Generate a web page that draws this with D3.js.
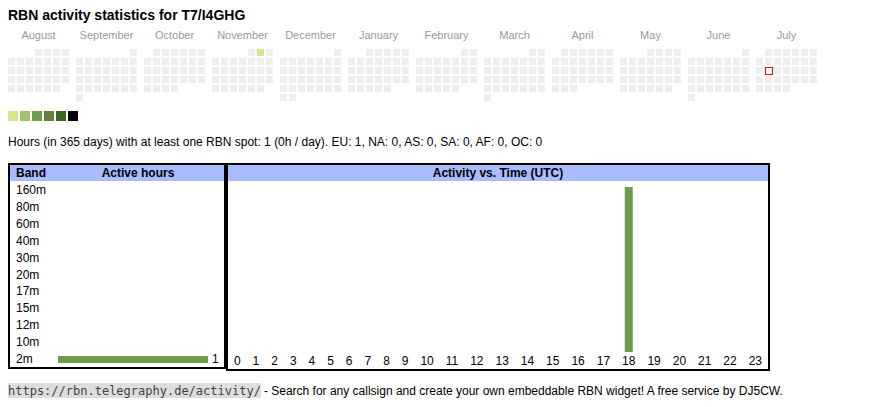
<!DOCTYPE html>
<html>
<head>
<meta charset="utf-8">
<script src="https://cdn.jsdelivr.net/npm/d3@7"></script>
<style>
    body { margin: 0; background: #fff; }
    svg { display: block; font-family: "Liberation Sans", Arial, sans-serif; }
</style>
</head>
<body>
<svg id="chart" width="870" height="407"></svg>
<script>
// data
const callsign = 'T7/I4GHG';
const monthNames = ['August', 'September', 'October', 'November', 'December', 'January',
    'February', 'March', 'April', 'May', 'June', 'July'];
const monthStarts = ['2024-08-01', '2024-09-01', '2024-10-01', '2024-11-01', '2024-12-01', '2025-01-01',
    '2025-02-01', '2025-03-01', '2025-04-01', '2025-05-01', '2025-06-01', '2025-07-01'];
const activeDays = ['2024-11-02'];
const activeLevels = [1];
const today = '2025-07-15';
const legendColors = ['#dce38d', '#a2c36b', '#6a9e47', '#6b7b3b', '#3b6a27', '#000000'];
const bands = ['160m', '80m', '60m', '40m', '30m', '20m', '17m', '15m', '12m', '10m', '2m'];
const bandHours = [0, 0, 0, 0, 0, 0, 0, 0, 0, 0, 1];
const hours = ['0', '1', '2', '3', '4', '5', '6', '7', '8', '9', '10', '11',
    '12', '13', '14', '15', '16', '17', '18', '19', '20', '21', '22', '23'];
const hourActivity = [0, 0, 0, 0, 0, 0, 0, 0, 0, 0, 0, 0, 0, 0, 0, 0, 0, 0, 1, 0, 0, 0, 0, 0];
const summary = 'Hours (in 365 days) with at least one RBN spot: 1 (0h / day). EU: 1, NA: 0, AS: 0, SA: 0, AF: 0, OC: 0';

const barColor = '#6a9e47';
const headerColor = '#aabbff';
const emptyColor = '#eeeeee';

const svg = d3.select('#chart');
const parse = d3.timeParse('%Y-%m-%d');
const fmt = d3.timeFormat('%Y-%m-%d');

// title
svg.append('text')
    .attr('x', 8).attr('y', 20)
    .attr('font-size', '14px').attr('font-weight', 'bold')
    .text(`RBN activity statistics for ${callsign}`);

// calendar
const cell = 7, pitch = 9, blockPitch = 68, calX = 8, calY = 49;
const levelByDay = new Map(activeDays.map((d, i) => [d, activeLevels[i]]));
const colorScale = d3.scaleOrdinal().domain([1, 2, 3, 4, 5, 6]).range(legendColors);

monthStarts.forEach((m, mi) => {
    const start = parse(m);
    const days = d3.timeDay.range(start, d3.timeMonth.offset(start, 1));
    const x0 = calX + mi * blockPitch;
    const g = svg.append('g').attr('transform', `translate(${x0},${calY})`);

    svg.append('text')
        .attr('x', x0 + (7 * pitch - 2) / 2).attr('y', 39)
        .attr('text-anchor', 'middle')
        .attr('font-size', '11px').attr('fill', '#999')
        .text(monthNames[mi]);

    g.selectAll('rect')
        .data(days)
        .enter()
        .append('rect')
        .attr('x', d => ((d.getDay() + 6) % 7) * pitch)
        .attr('y', d => d3.timeMonday.count(start, d) * pitch)
        .attr('width', cell)
        .attr('height', cell)
        .attr('fill', d => levelByDay.has(fmt(d)) ? colorScale(levelByDay.get(fmt(d))) : emptyColor)
        .each(function(d) {
            if (fmt(d) === today) {
                d3.select(this)
                    .attr('fill', '#fff')
                    .attr('stroke', '#e00')
                    .attr('stroke-width', 1)
                    .attr('x', +d3.select(this).attr('x') + 0.5)
                    .attr('y', +d3.select(this).attr('y') + 0.5);
            }
        });
});

// legend
svg.selectAll('.legend')
    .data(legendColors)
    .enter()
    .append('rect')
    .attr('class', 'legend')
    .attr('x', (d, i) => 8 + i * 12)
    .attr('y', 111)
    .attr('width', 10)
    .attr('height', 10)
    .attr('fill', d => d);

// summary line
svg.append('text')
    .attr('x', 8).attr('y', 146)
    .attr('font-size', '12px')
    .text(summary);

// left table: band / active hours
const left = { x0: 8, x1: 226, y0: 163, y1: 369 };
svg.append('rect')
    .attr('x', left.x0 + 2).attr('y', left.y0 + 2)
    .attr('width', left.x1 - left.x0 - 4).attr('height', 16)
    .attr('fill', headerColor);
svg.append('rect')
    .attr('x', left.x0 + 1).attr('y', left.y0 + 1)
    .attr('width', left.x1 - left.x0 - 2).attr('height', left.y1 - left.y0 - 2)
    .attr('fill', 'none').attr('stroke', '#000').attr('stroke-width', 2);
svg.append('text')
    .attr('x', 16).attr('y', 177)
    .attr('font-size', '12px').attr('font-weight', 'bold')
    .text('Band');
svg.append('text')
    .attr('x', 138).attr('y', 177)
    .attr('text-anchor', 'middle')
    .attr('font-size', '12px').attr('font-weight', 'bold')
    .text('Active hours');

const bandY = d3.scalePoint().domain(bands).range([194, 363]);
const bandX = d3.scaleLinear().domain([0, d3.max(bandHours)]).range([58, 208]);

svg.selectAll('.band-label')
    .data(bands)
    .enter()
    .append('text')
    .attr('class', 'band-label')
    .attr('x', 16)
    .attr('y', d => bandY(d))
    .attr('font-size', '12px')
    .text(d => d);

const activeBands = bands.map((b, i) => ({ band: b, value: bandHours[i] })).filter(d => d.value > 0);
svg.selectAll('.band-bar')
    .data(activeBands)
    .enter()
    .append('rect')
    .attr('class', 'band-bar')
    .attr('x', bandX(0))
    .attr('y', d => bandY(d.band) - 7)
    .attr('width', d => bandX(d.value) - bandX(0))
    .attr('height', 7)
    .attr('fill', barColor);
svg.selectAll('.band-value')
    .data(activeBands)
    .enter()
    .append('text')
    .attr('class', 'band-value')
    .attr('x', d => bandX(d.value) + 4)
    .attr('y', d => bandY(d.band))
    .attr('font-size', '12px')
    .text(d => d.value);

// right table: activity vs time
const right = { x0: 226, x1: 770, y0: 163, y1: 371 };
svg.append('rect')
    .attr('x', right.x0 + 2).attr('y', right.y0 + 2)
    .attr('width', right.x1 - right.x0 - 4).attr('height', 16)
    .attr('fill', headerColor);
svg.append('rect')
    .attr('x', right.x0 + 1).attr('y', right.y0 + 1)
    .attr('width', right.x1 - right.x0 - 2).attr('height', right.y1 - right.y0 - 2)
    .attr('fill', 'none').attr('stroke', '#000').attr('stroke-width', 2);
svg.append('text')
    .attr('x', (right.x0 + right.x1) / 2).attr('y', 177)
    .attr('text-anchor', 'middle')
    .attr('font-size', '12px').attr('font-weight', 'bold')
    .text('Activity vs. Time (UTC)');

// hour cells are sized to their label like an html table
const ctx = document.createElement('canvas').getContext('2d');
ctx.font = '12px "Liberation Sans", Arial, sans-serif';
const textW = hours.map(h => ctx.measureText(h).width);
const inner = right.x1 - right.x0 - 4;
const pad = (inner - d3.sum(textW)) / hours.length;
let acc = right.x0 + 2;
const centers = textW.map(w => { const c = acc + (w + pad) / 2; acc += w + pad; return c; });
const hourX = d3.scaleOrdinal().domain(hours).range(centers);
const hourY = d3.scaleLinear().domain([0, d3.max(hourActivity)]).range([352, 187]);

svg.selectAll('.hour-label')
    .data(hours)
    .enter()
    .append('text')
    .attr('class', 'hour-label')
    .attr('x', d => hourX(d))
    .attr('y', 365)
    .attr('text-anchor', 'middle')
    .attr('font-size', '12px')
    .text(d => d);

const hourData = hours.map((h, i) => ({ hour: h, value: hourActivity[i] })).filter(d => d.value > 0);
svg.selectAll('.hour-bar')
    .data(hourData)
    .enter()
    .append('rect')
    .attr('class', 'hour-bar')
    .attr('x', d => hourX(d.hour) - 4)
    .attr('y', d => hourY(d.value))
    .attr('width', 8)
    .attr('height', d => hourY(0) - hourY(d.value))
    .attr('fill', barColor);

// footer
const url = 'https://rbn.telegraphy.de/activity/';
const urlText = svg.append('text')
    .attr('x', 8).attr('y', 395)
    .attr('font-family', '"DejaVu Sans Mono", monospace')
    .attr('font-size', '12px')
    .attr('fill', '#444')
    .text(url);
const urlW = urlText.node().getComputedTextLength();
svg.insert('rect', 'text:last-child')
    .attr('x', 8).attr('y', 383)
    .attr('width', urlW).attr('height', 15)
    .attr('fill', '#dddddd');
svg.append('text')
    .attr('x', 8 + urlW + 3).attr('y', 395)
    .attr('font-size', '12px')
    .text('- Search for any callsign and create your own embeddable RBN widget! A free service by DJ5CW.');
</script>
</body>
</html>
